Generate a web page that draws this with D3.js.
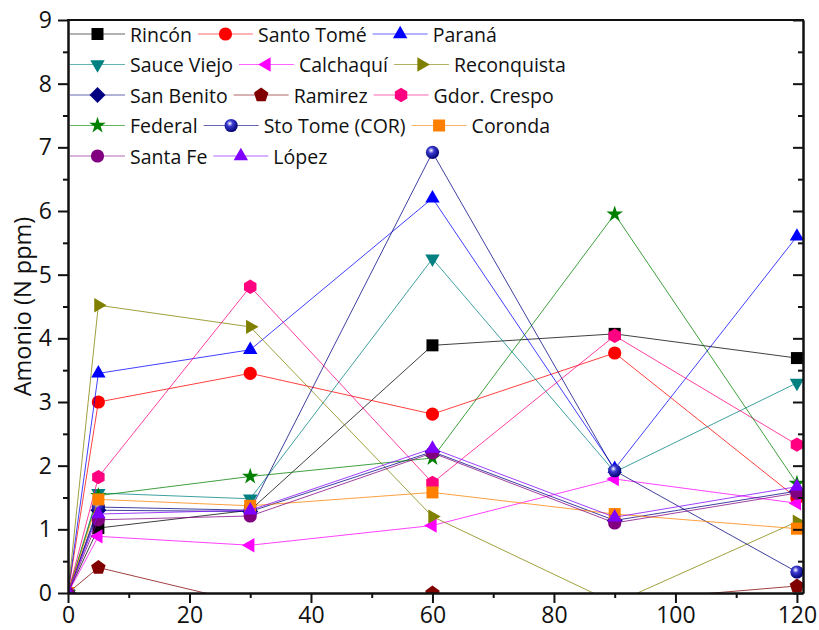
<!DOCTYPE html>
<html lang="en">
<head>
<meta charset="UTF-8">
<title>Amonio</title>
<style>
  body { margin: 0; background: #fff; }
  text { font-family: "Open Sans", sans-serif; fill: #111; }
</style>
</head>
<body>
<svg width="819" height="630"></svg>
<script src="https://cdn.jsdelivr.net/npm/d3@7"></script>
<script>
// sampling times (x) and ammonium values per site (N ppm)
var times = [0, 5, 30, 60, 90, 120];
var rincon      = [0, 1.02, 1.30, 3.89, 4.07, 3.69];
var santoTome   = [0, 3.00, 3.45, 2.81, 3.77, 1.49];
var parana      = [0, 3.45, 3.82, 6.20, 1.95, 5.60];
var sauceViejo  = [0, 1.57, 1.48, 5.25, 1.90, 3.30];
var calchaqui   = [0, 0.89, 0.75, 1.06, 1.79, 1.41];
var reconquista = [0, 4.52, 4.18, 1.20, -0.16, 1.12];
var sanBenito   = [0, 1.30, 1.28, 2.22, 1.14, 1.60];
var ramirez     = [0, 0.40, -0.17, 0.00, -0.13, 0.11];
var gdorCrespo  = [0, 1.82, 4.81, 1.73, 4.04, 2.33];
var federal     = [0, 1.53, 1.83, 2.12, 5.95, 1.72];
var stoTomeCor  = [0, 1.35, 1.30, 6.92, 1.92, 0.33];
var coronda     = [0, 1.47, 1.37, 1.58, 1.24, 1.01];
var santaFe     = [0, 1.15, 1.21, 2.20, 1.10, 1.57];
var lopez       = [0, 1.24, 1.30, 2.27, 1.19, 1.67];

var names = ["Rincón", "Santo Tomé", "Paraná", "Sauce Viejo", "Calchaquí", "Reconquista",
  "San Benito", "Ramirez", "Gdor. Crespo", "Federal", "Sto Tome (COR)", "Coronda", "Santa Fe", "López"];
var values = [rincon, santoTome, parana, sauceViejo, calchaqui, reconquista,
  sanBenito, ramirez, gdorCrespo, federal, stoTomeCor, coronda, santaFe, lopez];
var colors = ["#000000", "#ff0000", "#0000ff", "#008080", "#ff00ff", "#808000",
  "#000080", "#800000", "#ff0080", "#008000", "#000080", "#ff8000", "#800080", "#8000ff"];
var shapes = ["square", "circle", "triUp", "triDown", "triLeft", "triRight",
  "diamond", "pentagon", "hexagon", "star", "sphere", "square", "circle", "triUp"];

var xTicks = [0, 20, 40, 60, 80, 100, 120];
var yTicks = [0, 1, 2, 3, 4, 5, 6, 7, 8, 9];

var svg = d3.select("svg");
var pLeft = 68, pRight = 803, pTop = 20, pBottom = 593;

var x = d3.scaleLinear().domain([0, 121]).range([pLeft, pRight]);
var y = d3.scaleLinear().domain([0, 9]).range([pBottom, pTop]);

var defs = svg.append("defs");
defs.append("clipPath").attr("id", "plotclip")
  .append("rect").attr("x", pLeft).attr("y", pTop).attr("width", pRight - pLeft).attr("height", pBottom - pTop);
var grad = defs.append("radialGradient").attr("id", "ball")
  .attr("cx", "40%").attr("cy", "35%").attr("r", "65%");
grad.append("stop").attr("offset", "0%").attr("stop-color", "#ffffff");
grad.append("stop").attr("offset", "35%").attr("stop-color", "#3a3ad0");
grad.append("stop").attr("offset", "100%").attr("stop-color", "#000070");

function poly(n, r, rot) {
  var pts = [];
  for (var i = 0; i < n; i++) {
    var a = rot + i * 2 * Math.PI / n;
    pts.push([r * Math.cos(a), r * Math.sin(a)]);
  }
  return "M" + pts.map(function (p) { return p[0].toFixed(2) + "," + p[1].toFixed(2); }).join("L") + "Z";
}

function markerPath(shape) {
  switch (shape) {
    case "square": return "M-6,-6H6V6H-6Z";
    case "triUp": return poly(3, 8.3, -Math.PI / 2);
    case "triDown": return poly(3, 8.3, Math.PI / 2);
    case "triLeft": return poly(3, 8.3, Math.PI);
    case "triRight": return poly(3, 8.3, 0);
    case "diamond": return poly(4, 8, -Math.PI / 2);
    case "pentagon": return poly(5, 7.6, -Math.PI / 2);
    case "hexagon": return poly(6, 7.2, -Math.PI / 2);
    case "star": return d3.symbol().type(d3.symbolStar).size(85)();
  }
  return null;
}

function drawMarker(g, shape, color) {
  if (shape === "circle") {
    g.append("circle").attr("r", 6.6).attr("fill", color);
  } else if (shape === "sphere") {
    g.append("circle").attr("r", 6.6).attr("fill", "url(#ball)");
  } else {
    g.append("path").attr("d", markerPath(shape)).attr("fill", color);
  }
}

// series
var plot = svg.append("g").attr("clip-path", "url(#plotclip)");
var line = d3.line().x(function (d) { return x(d[0]); }).y(function (d) { return y(d[1]); });

values.forEach(function (vals, i) {
  var pts = times.map(function (t, j) { return [t, vals[j]]; });
  var g = plot.append("g");
  g.append("path").attr("d", line(pts)).attr("fill", "none")
    .attr("stroke", colors[i]).attr("stroke-opacity", 0.75).attr("stroke-width", 1);
  pts.forEach(function (p) {
    var m = g.append("g").attr("transform", "translate(" + x(p[0]) + "," + y(p[1]) + ")");
    drawMarker(m, shapes[i], colors[i]);
  });
});

// axes
var axisStyle = function (g) {
  g.attr("font-size", 23).attr("font-family", "Open Sans");
  g.selectAll(".domain").attr("stroke-width", 2).attr("stroke", "#111");
  g.selectAll(".tick line").attr("stroke-width", 2).attr("stroke", "#111");
  g.selectAll(".tick text").attr("fill", "#111");
};

svg.append("g").attr("transform", "translate(0," + pBottom + ")")
  .call(d3.axisBottom(x).tickValues(d3.range(10, 121, 20)).tickSize(5).tickSizeOuter(0).tickFormat(""))
  .call(axisStyle);
svg.append("g").attr("transform", "translate(0," + pBottom + ")")
  .call(d3.axisBottom(x).tickValues(xTicks).tickSize(10).tickSizeOuter(0).tickPadding(4))
  .call(axisStyle);

svg.append("g").attr("transform", "translate(" + pLeft + ",0)")
  .call(d3.axisLeft(y).tickValues(d3.range(0.5, 9, 1)).tickSize(5).tickSizeOuter(0).tickFormat(""))
  .call(axisStyle);
svg.append("g").attr("transform", "translate(" + pLeft + ",0)")
  .call(d3.axisLeft(y).tickValues(yTicks).tickSize(10).tickSizeOuter(0).tickPadding(6))
  .call(axisStyle);

// right axis, ticks pointing in
svg.append("g").attr("transform", "translate(" + pRight + ",0)")
  .call(d3.axisRight(y).tickValues(d3.range(0.5, 9, 1)).tickSize(-5).tickSizeOuter(0).tickFormat(""))
  .call(axisStyle);
svg.append("g").attr("transform", "translate(" + pRight + ",0)")
  .call(d3.axisRight(y).tickValues(yTicks).tickSize(-10).tickSizeOuter(0).tickFormat(""))
  .call(axisStyle);

// top axis, no ticks
svg.append("line").attr("x1", pLeft - 1).attr("x2", pRight + 1).attr("y1", pTop).attr("y2", pTop)
  .attr("stroke", "#111").attr("stroke-width", 2);

svg.append("text")
  .attr("transform", "translate(22," + ((pTop + pBottom) / 2) + ") rotate(-90)")
  .attr("text-anchor", "middle").attr("dominant-baseline", "central")
  .attr("font-size", 23.5).text("Amonio (N ppm)");

// legend: 3 items per row, flowing left to right
var legend = svg.append("g");
var perRow = 3, rowH = 30.5, legY = 34;
var curX = 70;
names.forEach(function (name, i) {
  var row = Math.floor(i / perRow);
  if (i % perRow === 0) curX = 70;
  var cy = legY + row * rowH;
  var g = legend.append("g");
  g.append("line").attr("x1", curX).attr("x2", curX + 55).attr("y1", cy).attr("y2", cy)
    .attr("stroke", colors[i]).attr("stroke-opacity", 0.6).attr("stroke-width", 1);
  var m = g.append("g").attr("transform", "translate(" + (curX + 27.5) + "," + cy + ")");
  drawMarker(m, shapes[i], colors[i]);
  var t = g.append("text").attr("x", curX + 60).attr("y", cy)
    .attr("dominant-baseline", "central").attr("font-size", 19.5).text(name);
  curX = curX + 60 + t.node().getComputedTextLength() + 6;
});
</script>
</body>
</html>
